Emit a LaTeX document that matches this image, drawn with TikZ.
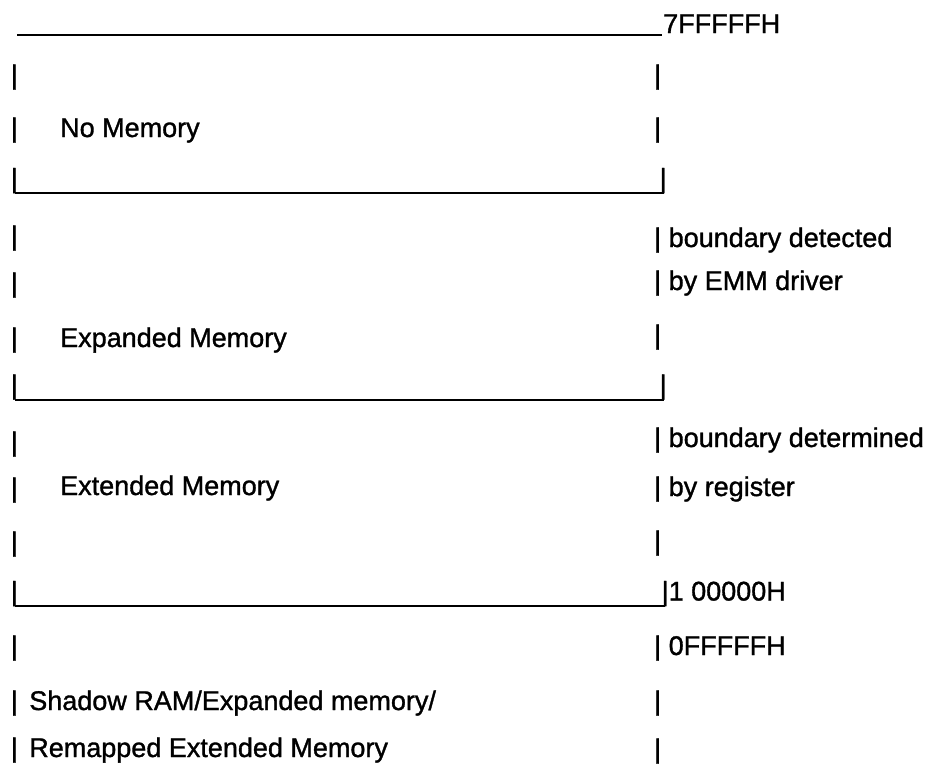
\documentclass[tikz,border=0pt]{standalone}
\usepackage{fontspec}
\setmainfont[FakeBold=1.2]{Liberation Sans}
\begin{document}
\begin{tikzpicture}[x=1pt,y=-1pt,
  txt/.style={anchor=base west, inner sep=0pt, font=\fontsize{27}{30}\selectfont},
  rule/.style={line width=2pt}]
\useasboundingbox[fill=white] (0,0) rectangle (928,766);
% top boundary
\node[txt] (topaddr) at (663,33) {7FFFFFH};
\coordinate (t0) at (17,35);
\coordinate (t1) at (662,35);
\draw[rule] (t0) -- (t1);
% row 1
\node[txt] (l1) at (10.6,84) {|};
\node[txt] (r1) at (654,84) {|};
% row 2
\node[txt] (l2) at (10.6,137) {|};
\node[txt] (nomem) at (60,137) {No Memory};
\node[txt] (r2) at (654,137) {|};
% row 3 (bottom of No Memory)
\node[txt] (l3) at (10.6,187.5) {|};
\node[txt] (r3) at (659.5,187.5) {|};
\coordinate (b3l) at (14.5,193);
\coordinate (b3r) at (663.5,193);
\draw[rule] (b3l) -- (b3r);
% row 4
\node[txt] (l4) at (10.6,245) {|};
\node[txt] (r4) at (654,247) {| boundary detected};
% row 5
\node[txt] (l5) at (10.6,292) {|};
\node[txt] (r5) at (654,290) {| by EMM driver};
% row 6
\node[txt] (l6) at (10.6,347) {|};
\node[txt] (expmem) at (60,347) {Expanded Memory};
\node[txt] (r6) at (654,344) {|};
% row 7 (bottom of Expanded Memory)
\node[txt] (l7) at (10.6,394) {|};
\node[txt] (r7) at (659.5,394) {|};
\coordinate (b7l) at (14.5,399.5);
\coordinate (b7r) at (663.5,399.5);
\draw[rule] (b7l) -- (b7r);
% row 8
\node[txt] (l8) at (10.6,451) {|};
\node[txt] (r8) at (654,447) {| boundary determined};
% row 9
\node[txt] (l9) at (10.6,497) {|};
\node[txt] (extmem) at (60,495) {Extended Memory};
\node[txt] (r9) at (654,496) {| by register};
% row 10
\node[txt] (l10) at (10.6,551) {|};
\node[txt] (r10) at (654,550) {|};
% row 11 (bottom of Extended Memory)
\node[txt] (l11) at (10.6,600.5) {|};
\node[txt] (r11) at (661.5,600.5) {|1 00000H};
\coordinate (b11l) at (14.5,606);
\coordinate (b11r) at (664.5,606);
\draw[rule] (b11l) -- (b11r);
% row 12
\node[txt] (l12) at (10.6,655) {|};
\node[txt] (r12) at (654,655) {| 0FFFFFH};
% row 13
\node[txt] (shadow) at (10.6,710) {|\hspace{4pt} Shadow RAM/Expanded memory/};
\node[txt] (r13) at (654,710) {|};
% row 14
\node[txt] (remap) at (10.6,757) {|\hspace{4pt} Remapped Extended Memory};
\node[txt] (r14) at (654,758) {|};
\end{tikzpicture}
\end{document}
